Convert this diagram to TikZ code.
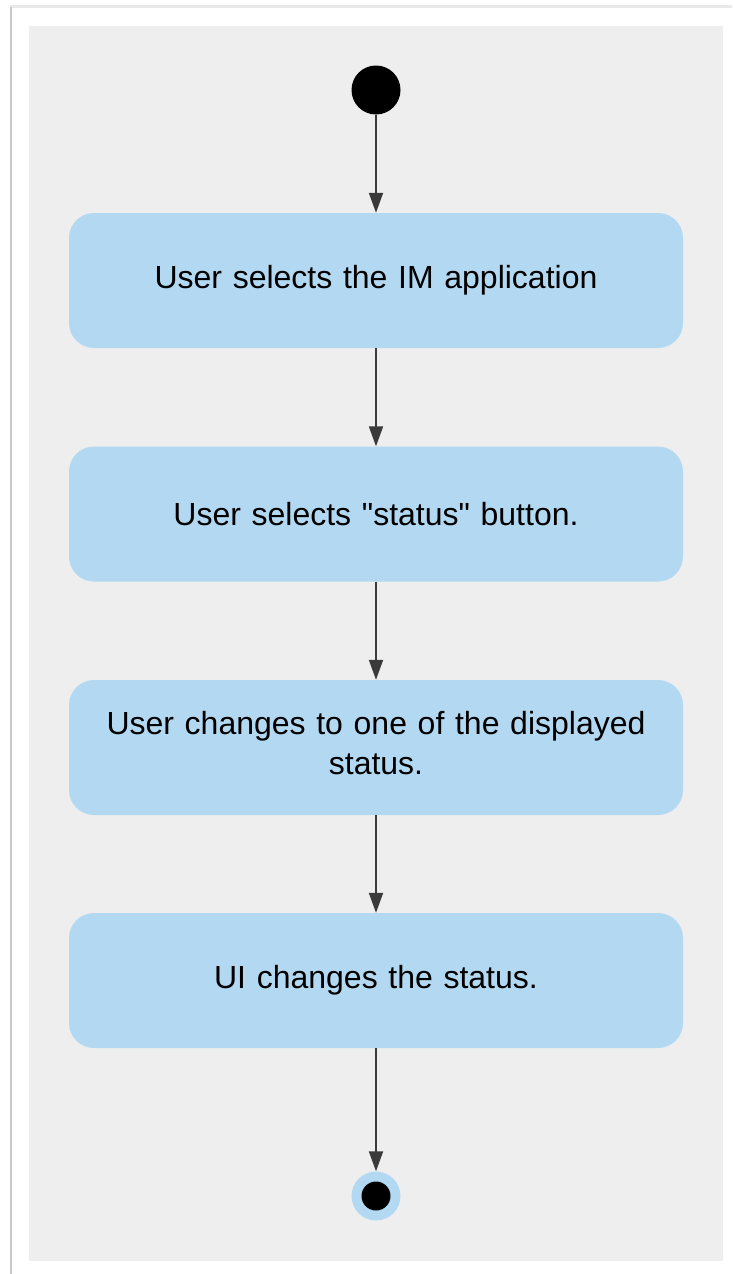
\documentclass[tikz,border=0pt]{standalone}
\usepackage{fontspec}
\setmainfont{Liberation Sans}[Ligatures=NoCommon]
\usetikzlibrary{arrows.meta}
\definecolor{bg}{HTML}{EEEEEE}
\definecolor{boxblue}{HTML}{B3D9F2}
\definecolor{arr}{HTML}{3A3A3A}
\definecolor{edge}{HTML}{C8C8C8}
\tikzset{
  stepbox/.style={rectangle, rounded corners=25pt, fill=boxblue, minimum width=614pt, minimum height=135pt, align=center, font=\fontsize{32}{40}\selectfont, inner sep=0pt, text width=590pt},
  flow/.style={draw=arr, line width=2pt, -{Triangle[length=20pt, width=14pt]}},
}
\begin{document}
\begin{tikzpicture}[x=1pt, y=-1pt]
\useasboundingbox (0,0) rectangle (732,1274);
\fill[white] (0,0) rectangle (732,1274);
\fill[edge!40] (10,5) rectangle (732,8);
\fill[edge] (10,7) rectangle (12,1274);
\fill[bg] (29,26) rectangle (723,1261);
\node[circle, fill=black, minimum size=49pt, inner sep=0pt] (start) at (376,90) {};
\node[stepbox] (s1) at (376,280.5) {User selects the IM application};
\node[stepbox] (s2) at (376,514) {User selects \textquotedbl status\textquotedbl{} button.};
\node[stepbox, text depth=49pt] (s3) at (376,747.5) {User changes to one of the displayed\\status.};
\node[stepbox] (s4) at (376,980.5) {UI changes the status.};
\node[circle, fill=boxblue, minimum size=49pt, inner sep=0pt] (end) at (376,1196) {};
\node[circle, fill=black, minimum size=29pt, inner sep=0pt] at (end) {};
\draw[flow] (start) -- (s1);
\draw[flow] (s1) -- (s2);
\draw[flow] (s2) -- (s3);
\draw[flow] (s3) -- (s4);
\draw[flow] (s4) -- (end);
\end{tikzpicture}
\end{document}
